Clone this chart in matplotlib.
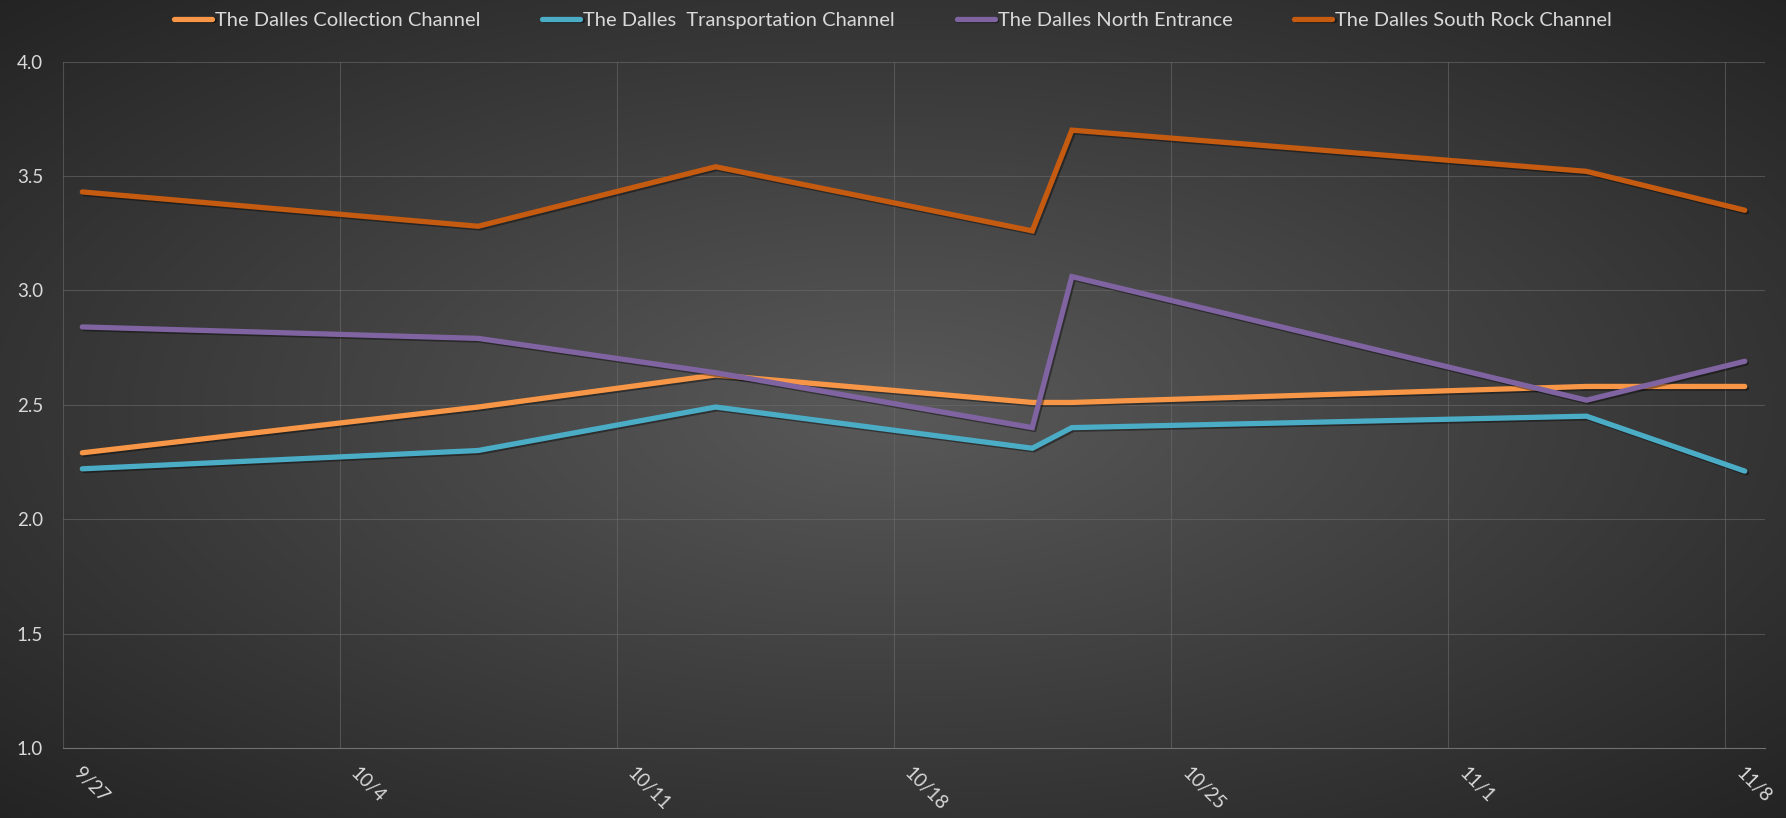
import numpy as np
import pandas as pd
import matplotlib
matplotlib.use("Agg")
import matplotlib.pyplot as plt
import matplotlib.patheffects as pe

# --- data ---
dates = ["2021-09-27", "2021-10-07", "2021-10-13", "2021-10-21",
         "2021-10-22", "2021-11-04", "2021-11-08"]
collection = [2.29, 2.49, 2.63, 2.51, 2.51, 2.58, 2.58]
transportation = [2.22, 2.30, 2.49, 2.31, 2.40, 2.45, 2.21]
north_entrance = [2.84, 2.79, 2.64, 2.40, 3.06, 2.52, 2.69]
south_rock = [3.43, 3.28, 3.54, 3.26, 3.70, 3.52, 3.35]

series_names = ["The Dalles Collection Channel", "The Dalles  Transportation Channel",
                "The Dalles North Entrance", "The Dalles South Rock Channel"]
series_colors = ["#F79646", "#4BACC6", "#8064A2", "#C55A11"]
tick_dates = pd.date_range("2021-09-27", "2021-11-08", freq="7D")
y_ticks = [1.0, 1.5, 2.0, 2.5, 3.0, 3.5, 4.0]

plt.rcParams["font.family"] = ["Lato", "DejaVu Sans"]
text_color = "#D9D9D9"

fig = plt.figure(figsize=(17.86, 8.18), dpi=100)

# radial gradient background
bg = fig.add_axes([0, 0, 1, 1], zorder=-10)
yy, xx = np.mgrid[0:1:400j, 0:1:800j]
r = np.sqrt(((xx - 0.5) / 0.5) ** 2 + ((yy - 0.5) / 0.5) ** 2) / np.sqrt(2)
shade = 0.35 - 0.21 * np.clip(r, 0, 1)
bg.imshow(np.dstack([shade, shade, shade]), extent=[0, 1, 0, 1], aspect="auto")
bg.axis("off")

ax = fig.add_axes([0.035, 0.0856, 0.953, 0.8392])
ax.set_facecolor("none")

# Excel date axis puts each point in the middle of its day slot
x = pd.to_datetime(dates) + pd.Timedelta(hours=12)
shadow = [pe.SimpleLineShadow(offset=(1.2, -1.2), shadow_color="black", alpha=0.4), pe.Normal()]
for vals, name, col in zip([collection, transportation, north_entrance, south_rock],
                           series_names, series_colors):
    ax.plot(x, vals, color=col, lw=3.8, label=name, solid_capstyle="round",
            solid_joinstyle="miter", path_effects=shadow)

ax.set_xlim(pd.Timestamp("2021-09-27"), pd.Timestamp("2021-11-09"))
ax.set_ylim(1.0, 4.0)
ax.set_yticks(y_ticks)
ax.set_yticklabels([f"{v:.1f}" for v in y_ticks])

ax.set_xticks(tick_dates)
ax.set_xticklabels([])
ax.set_xticks(tick_dates + pd.Timedelta(hours=12), minor=True)
ax.set_xticklabels([f"{d.month}/{d.day}" for d in tick_dates], minor=True,
                   rotation=-45, ha="left", va="top", rotation_mode="anchor")

ax.grid(True, which="major", color="#6a6a6a", lw=0.8, alpha=0.6)
ax.tick_params(which="both", length=0, colors=text_color, labelsize=13.5)
ax.tick_params(axis="x", which="minor", pad=12)
ax.tick_params(axis="y", pad=14)
for side in ["top", "right", "left"]:
    ax.spines[side].set_visible(False)
ax.spines["bottom"].set_color("#707070")

fig.legend(loc="upper center", ncol=4, frameon=False, bbox_to_anchor=(0.5, 1.008),
           fontsize=14.5, labelcolor=text_color, handlelength=1.9, handletextpad=0.15,
           columnspacing=3.05)

fig.savefig("out.png", dpi=100)
